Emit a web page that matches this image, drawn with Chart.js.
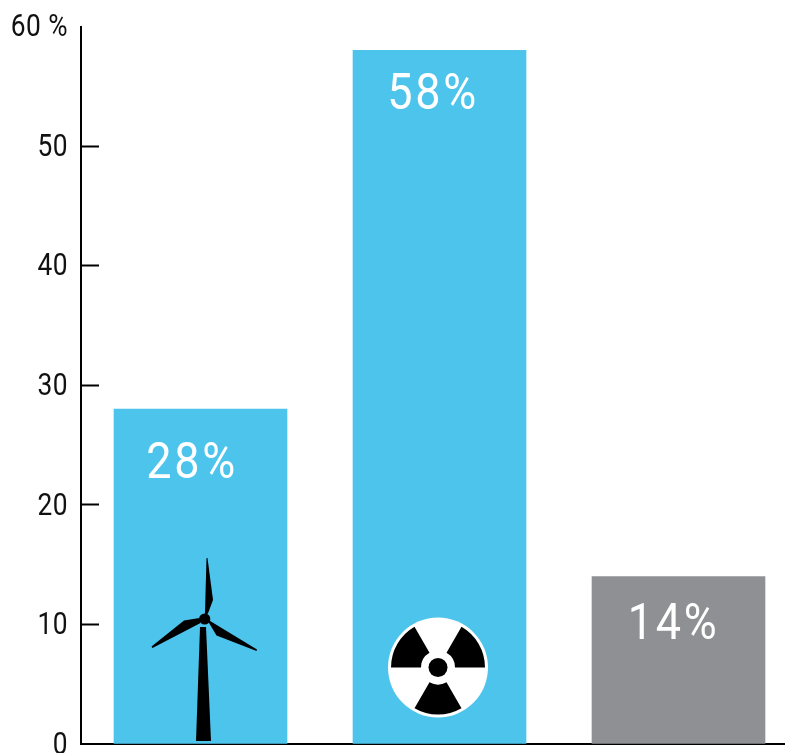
<!DOCTYPE html>
<html>
<head>
<meta charset="utf-8">
<style>html,body{margin:0;padding:0;background:#fff;overflow:hidden}canvas{display:block}</style>
<script src="https://cdn.jsdelivr.net/npm/chart.js@4"></script>
</head>
<body>
<canvas id="c" width="785" height="753"></canvas>
<script>
const categories = ["Wind", "Nuclear", "Other"];
const shareValues = [28, 58, 14];
const barColors = ["#4DC4EC", "#4DC4EC", "#8E9094"];
const yTicks = [0, 10, 20, 30, 40, 50, 60];

const FONT = 'Roboto,"Liberation Sans",sans-serif';
const labelOffsets = [[-8.5, 56], [-6.5, 46], [-5, 49.5]];

function poly(ctx, ox, oy, pts) {
  ctx.beginPath();
  pts.forEach((p, i) => i ? ctx.lineTo(ox + p[0], oy + p[1]) : ctx.moveTo(ox + p[0], oy + p[1]));
  ctx.closePath();
  ctx.fill();
}

function drawTurbine(ctx, cx, base) {
  ctx.fillStyle = "#000";
  poly(ctx, cx, base, [[-0.5, -117], [5.5, -117], [10.5, -3], [-4.5, -3]]);
  poly(ctx, cx, base, [[4.3, -125], [6, -186], [7, -186], [12.5, -144], [8, -132], [6, -128]]);
  poly(ctx, cx, base, [[-1, -126], [-16.5, -123.5], [-49, -97.5], [-48, -96], [0, -121]]);
  poly(ctx, cx, base, [[8, -122], [16, -108.5], [56, -93], [56.5, -94.5], [8, -124]]);
  ctx.beginPath();
  ctx.arc(cx + 4.2, base - 125, 5.6, 0, Math.PI * 2);
  ctx.fill();
}

function drawRadiation(ctx, cx, cy) {
  ctx.fillStyle = "#fff";
  ctx.beginPath();
  ctx.arc(cx, cy, 50, 0, Math.PI * 2);
  ctx.fill();
  ctx.fillStyle = "#000";
  [[180, 240], [300, 360], [60, 120]].forEach(([a, b]) => {
    const s = a * Math.PI / 180, e = b * Math.PI / 180;
    ctx.beginPath();
    ctx.arc(cx, cy, 47, s, e);
    ctx.arc(cx, cy, 17, e, s, true);
    ctx.closePath();
    ctx.fill();
  });
  ctx.beginPath();
  ctx.arc(cx, cy, 9.5, 0, Math.PI * 2);
  ctx.fill();
}

const decorations = {
  id: "decorations",
  beforeDraw(chart) {
    const y = chart.scales.y;
    if (!y._narrowed) {
      y._narrowed = true;
      const original = y.drawLabels;
      y.drawLabels = function (area) {
        const ctx = this.ctx;
        ctx.save();
        ctx.translate(68, 2);
        ctx.scale(0.85, 1);
        ctx.translate(-68, 0);
        ctx.letterSpacing = "0.5px";
        original.call(this, area);
        ctx.restore();
      };
    }
  },
  afterDatasetsDraw(chart) {
    const ctx = chart.ctx, meta = chart.getDatasetMeta(0), y = chart.scales.y;
    ctx.save();
    const base = y.getPixelForValue(0);
    drawTurbine(ctx, meta.data[0].x, base);
    drawRadiation(ctx, meta.data[1].x - 1.5, base - 76.5);
    ctx.letterSpacing = "3px";
    ctx.fillStyle = "#fff";
    ctx.font = "400 50px " + FONT;
    ctx.textAlign = "center";
    ctx.textBaseline = "middle";
    meta.data.forEach((bar, i) => {
      ctx.save();
      ctx.translate(bar.x + labelOffsets[i][0], bar.y + labelOffsets[i][1]);
      ctx.scale(0.9, 1);
      ctx.fillText(shareValues[i] + "%", 0, 0);
      ctx.restore();
    });
    ctx.restore();
  }
};

new Chart(document.getElementById("c"), {
  type: "bar",
  data: {
    labels: categories,
    datasets: [{
      data: shareValues.map((v, i) => ({ x: i, y: v })),
      backgroundColor: barColors,
      borderWidth: 0,
      barThickness: 173
    }]
  },
  plugins: [decorations],
  options: {
    responsive: false,
    animation: false,
    layout: { padding: { top: 26.5, bottom: 9, left: 0, right: 0 } },
    plugins: { legend: { display: false }, tooltip: { enabled: false } },
    scales: {
      x: {
        type: "linear",
        offset: false,
        min: -0.5,
        max: 2.4456,
        ticks: { display: false },
        grid: { display: false, drawTicks: false },
        border: { display: true, color: "#000", width: 2 },
        afterFit(s) { s.height = 0; s.paddingLeft = 0; s.paddingRight = 0; }
      },
      y: {
        min: 0, max: 60,
        afterBuildTicks(s) { s.ticks = yTicks.map(v => ({ value: v })); },
        afterFit(s) { s.width = 81; s.paddingTop = 0; s.paddingBottom = 0; },
        ticks: {
          color: "#111",
          font: { family: FONT, size: 31 },
          padding: 31,
          callback: v => v === 60 ? "60 %" : String(v)
        },
        grid: {
          drawOnChartArea: false,
          drawTicks: true,
          tickLength: -18,
          tickWidth: 2,
          tickColor: c => (c.tick.value === 0 || c.tick.value === 60) ? "rgba(0,0,0,0)" : "#000"
        },
        border: { display: true, color: "#000", width: 2 }
      }
    }
  }
});
</script>
</body>
</html>
